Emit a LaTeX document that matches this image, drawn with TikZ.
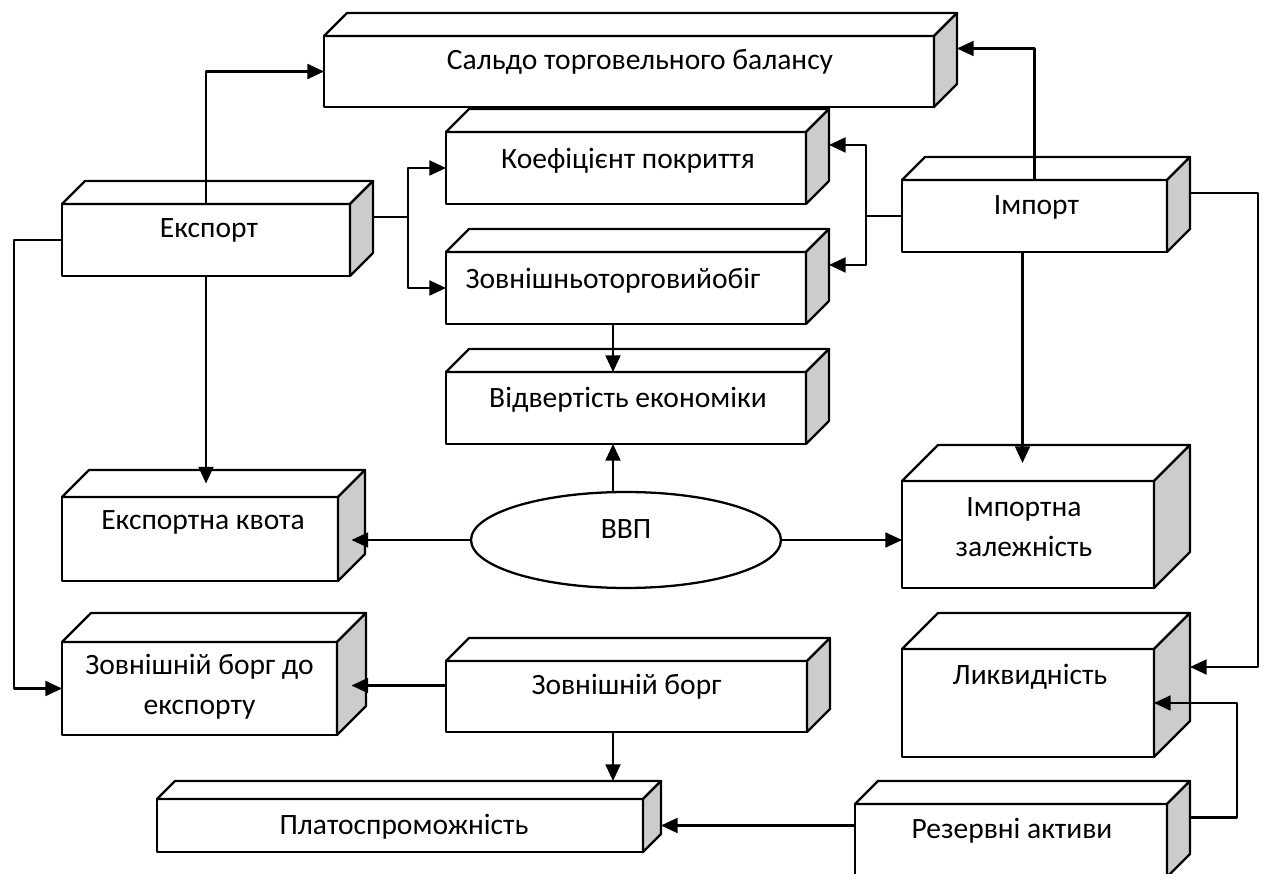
\documentclass[tikz,border=0pt]{standalone}
\usepackage{fontspec}
\setmainfont{Carlito}
\usepackage{tikz}
\usetikzlibrary{arrows.meta,shapes.geometric,calc,positioning}
\definecolor{sidegray}{RGB}{204,204,204}

\begin{document}
\begin{tikzpicture}[x=0.02cm, y=-0.02cm, line width=1.3pt, line join=round,
    cube/.style={draw, fill=white, inner sep=0pt, outer sep=0pt},
    lbl/.style={font=\fontsize{16.8pt}{23pt}\selectfont, align=center, inner sep=0pt},
    arr/.style={-{Triangle[length=9.5pt, width=8.5pt]}}]
    \path[use as bounding box, fill=white] (0,0) rectangle (1265,874);

    \node[cube, minimum width=12.2cm, minimum height=1.42cm] (saldo) at (629,71.5) {};
    \node[cube, minimum width=7.2cm, minimum height=1.44cm] (koef) at (626,168) {};
    \node[cube, minimum width=7.2cm, minimum height=1.44cm] (obig) at (626,288) {};
    \node[cube, minimum width=7.2cm, minimum height=1.44cm] (vidv) at (626,408) {};
    \node[cube, minimum width=5.76cm, minimum height=1.44cm] (eksp) at (206,240) {};
    \node[cube, minimum width=5.3cm, minimum height=1.44cm] (imp) at (1034.5,216) {};
    \node[cube, minimum width=5.52cm, minimum height=1.68cm] (kvota) at (200,539) {};
    \node[cube, minimum width=5.5cm, minimum height=1.86cm] (zbe) at (199.5,688.5) {};
    \node[cube, minimum width=5.04cm, minimum height=2.14cm] (impz) at (1028,534.5) {};
    \node[cube, minimum width=5.04cm, minimum height=2.16cm] (likv) at (1028,703) {};
    \node[cube, minimum width=6.24cm, minimum height=1.46cm] (rez) at (1011,840.5) {};
    \node[cube, minimum width=7.22cm, minimum height=1.42cm] (zborg) at (626.5,696.5) {};
    \node[cube, minimum width=9.72cm, minimum height=1.06cm] (plat) at (400,825.5) {};
    \node[cube, ellipse, minimum width=6.2cm, minimum height=1.92cm] (vvp) at (626,540) {};

    \foreach \n/\d in {saldo/23,koef/23,obig/23,vidv/23,eksp/23,imp/23,kvota/27,zbe/29,impz/36,likv/36,rez/23,zborg/23,plat/18}{
      \draw[fill=white] (\n.north west) -- ++(\d,-\d) -- ($(\n.north east)+(\d,-\d)$) -- (\n.north east) -- cycle;
      \draw[fill=sidegray] (\n.north east) -- ++(\d,-\d) -- ($(\n.south east)+(\d,-\d)$) -- (\n.south east) -- cycle;
      \coordinate (\n-o) at ($(\n.east)+(\d,-\d)$);
      \coordinate (\n-e) at ($(\n.east)+(\d,0)$);
      \coordinate (\n-m) at ($(\n.east)+(\d/2,0)$);
      \coordinate (\n-u) at ($(\n.north)+(\d/2,-\d/2)$);
      \coordinate (\n-b) at ($(\n.north)+(0,-\d)$);
    }

    \node[lbl] (saldo-l) at ($(saldo.north)+(11,26)$) {Сальдо торговельного балансу};
    \node[lbl] (koef-l) at ($(koef.north)+(2,29)$) {Коефіцієнт покриття};
    \node[lbl] (obig-l) at ($(obig.north)+(-13,29)$) {Зовнішньоторговийобіг};
    \node[lbl] (vidv-l) at ($(vidv.north)+(2,28)$) {Відвертість економіки};
    \node[lbl] (eksp-l) at ($(eksp.north)+(3,26)$) {Експорт};
    \node[lbl] (imp-l) at ($(imp.north)+(2,27)$) {Імпорт};
    \node[lbl] (kvota-l) at ($(kvota.north)+(3,25)$) {Експортна квота};
    \node[lbl] (zbe-l) at ($(zbe.north)+(0,45)$) {Зовнішній борг до\\експорту};
    \node[lbl] (impz-l) at ($(impz.north)+(-4,46)$) {Імпортна\\залежність};
    \node[lbl] (likv-l) at ($(likv.north)+(2,28)$) {Ликвидність};
    \node[lbl] (rez-l) at ($(rez.north)+(1,27)$) {Резервні активи};
    \node[lbl] (zborg-l) at ($(zborg.north)+(0,26)$) {Зовнішній борг};
    \node[lbl] (plat-l) at ($(plat.north)+(4,28)$) {Платоспроможність};
    \node[lbl] (vvp-l) at ($(vvp.center)+(0,-11)$) {ВВП};

    \coordinate (axis) at (613,0);
    \draw[arr] (eksp.north) |- (saldo.west);
    \draw (eksp-o) -- ++(35,0) coordinate (ej);
    \draw[arr] (ej) |- (koef.west);
    \draw[arr] (ej) |- (obig.west);
    \draw[arr] (imp.north) |- (saldo-o);
    \draw (imp.west) -- ++(-36,0) coordinate (ij);
    \draw[arr] (ij) |- (koef-o);
    \draw[arr] (ij) |- (obig-o);
    \draw[arr] (imp-o) -- ++(68,0) |- (likv-o);
    \draw[arr] ([xshift=-0.24cm]imp.south) -- ([xshift=-0.24cm]imp.south |- impz-u);
    \draw[arr] (eksp.west) -- ++(-48,0) |- (zbe.west);
    \draw[arr] (eksp.south) -- (eksp.south |- kvota-u);
    \draw[arr] (obig.south -| axis) -- (vidv.north -| axis);
    \draw[arr] (vvp.north -| axis) -- (vidv.south -| axis);
    \draw[arr] (vvp.west) -- (vvp.west -| kvota-m);
    \draw[arr] (vvp.east) -- (impz.west |- vvp.east);
    \draw[arr] ([yshift=0.22cm]zborg.west) -- ([yshift=0.22cm]zborg.west -| zbe-m);
    \draw[arr] (zborg.south -| axis) -- (axis |- plat-b);
    \draw[arr] (rez.west |- plat-e) -- (plat-e);
    \draw[arr] (rez-o) -- ++(47,0) |- (likv.east);
\end{tikzpicture}
\end{document}
